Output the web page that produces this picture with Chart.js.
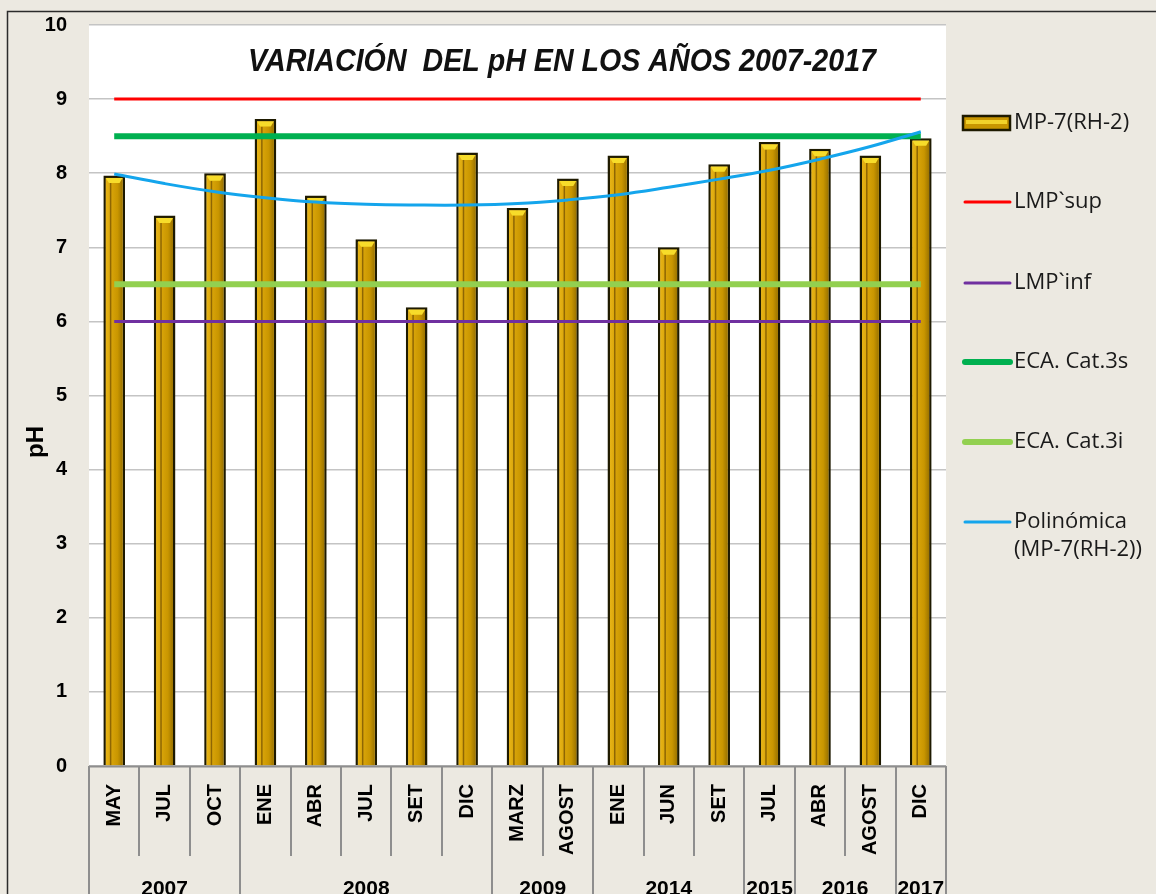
<!DOCTYPE html>
<html>
<head>
<meta charset="utf-8">
<script src="https://cdn.jsdelivr.net/npm/chart.js@4.4.1/dist/chart.umd.min.js"></script>
<style>
  html, body { margin: 0; padding: 0; background: #ECE9E1; }
  #wrap { width: 1156px; height: 894px; overflow: hidden; }
</style>
</head>
<body>
<div id="wrap"><canvas id="phChart" width="1156" height="894"></canvas></div>
<script>
// Categories (month / year groups)
const months = ['MAY', 'JUL', 'OCT', 'ENE', 'ABR', 'JUL', 'SET', 'DIC', 'MARZ', 'AGOST', 'ENE', 'JUN', 'SET', 'JUL', 'ABR', 'AGOST', 'DIC'];
const years = ['2007', '2008', '2009', '2014', '2015', '2016', '2017'];
const yearSpans = [3, 5, 2, 3, 1, 2, 1];

// Series values
const phValues = [7.97, 7.43, 8.00, 8.73, 7.70, 7.11, 6.19, 8.28, 7.53, 7.93, 8.24, 7.00, 8.12, 8.42, 8.33, 8.24, 8.47];
const lmpSup = [9, 9, 9, 9, 9, 9, 9, 9, 9, 9, 9, 9, 9, 9, 9, 9, 9];
const lmpInf = [6, 6, 6, 6, 6, 6, 6, 6, 6, 6, 6, 6, 6, 6, 6, 6, 6];
const ecaSup = [8.5, 8.5, 8.5, 8.5, 8.5, 8.5, 8.5, 8.5, 8.5, 8.5, 8.5, 8.5, 8.5, 8.5, 8.5, 8.5, 8.5];
const ecaInf = [6.5, 6.5, 6.5, 6.5, 6.5, 6.5, 6.5, 6.5, 6.5, 6.5, 6.5, 6.5, 6.5, 6.5, 6.5, 6.5, 6.5];
const trendValues = [7.99, 7.86, 7.75, 7.67, 7.61, 7.58, 7.57, 7.57, 7.59, 7.64, 7.71, 7.81, 7.92, 8.04, 8.19, 8.36, 8.56];

// Y axis ticks
const yMin = 0, yMax = 10, yStep = 1;

const chartTitle = 'VARIACIÓN  DEL pH EN LOS AÑOS 2007-2017';
const yTitle = 'pH';

const FONT = "'Liberation Sans', Arial, sans-serif";
const LEGEND_FONT = "'Open Sans', 'Liberation Sans', sans-serif";

// Frame, plot background, title, axis title
const framePlugin = {
    id: 'frame',
    beforeDraw(chart) {
        const { ctx, chartArea: a } = chart;
        ctx.save();
        ctx.fillStyle = '#ECE9E1';
        ctx.fillRect(0, 0, chart.width, chart.height);
        ctx.fillStyle = '#FFFFFF';
        ctx.fillRect(a.left, a.top, a.right - a.left, a.bottom - a.top);
        ctx.strokeStyle = '#2b2b2b';
        ctx.lineWidth = 1.5;
        ctx.beginPath();
        ctx.moveTo(7.5, chart.height + 2);
        ctx.lineTo(7.5, 11.5);
        ctx.lineTo(chart.width + 2, 11.5);
        ctx.stroke();
        ctx.restore();
    },
    afterDraw(chart) {
        const { ctx } = chart;
        ctx.save();
        // title inside plot
        ctx.fillStyle = '#111';
        ctx.font = 'italic bold 31px ' + FONT;
        ctx.textBaseline = 'middle';
        ctx.textAlign = 'center';
        const w = ctx.measureText(chartTitle).width;
        const sx = Math.min(1, 628 / w);
        ctx.translate(562, 62);
        ctx.scale(sx, 1);
        ctx.fillText(chartTitle, 0, 0);
        ctx.restore();

        // y axis title
        ctx.save();
        ctx.fillStyle = '#000';
        ctx.font = 'bold 24px ' + FONT;
        ctx.textAlign = 'center';
        ctx.textBaseline = 'middle';
        ctx.translate(36, 442);
        ctx.rotate(-Math.PI / 2);
        ctx.fillText(yTitle, 0, 0);
        ctx.restore();
    }
};

// Two level category axis: separators and year labels
const groupAxisPlugin = {
    id: 'groupAxis',
    afterDraw(chart) {
        const { ctx, chartArea: a, scales: { x } } = chart;
        const half = (x.getPixelForValue(1) - x.getPixelForValue(0)) / 2;
        ctx.save();
        ctx.strokeStyle = '#8E8E8E';
        ctx.lineWidth = 2;
        ctx.beginPath();
        ctx.moveTo(a.left, a.bottom + 0.5);
        ctx.lineTo(a.right, a.bottom + 0.5);
        ctx.stroke();

        const yearEdges = new Set([0]);
        let acc = 0;
        yearSpans.forEach(s => { acc += s; yearEdges.add(acc); });

        for (let i = 0; i <= months.length; i++) {
            const px = Math.round(x.getPixelForValue(i) - half);
            const full = yearEdges.has(i);
            ctx.beginPath();
            ctx.moveTo(px, a.bottom);
            ctx.lineTo(px, full ? chart.height : 856);
            ctx.stroke();
        }

        ctx.fillStyle = '#000';
        ctx.font = 'bold 21px ' + FONT;
        ctx.textAlign = 'center';
        ctx.textBaseline = 'alphabetic';
        let start = 0;
        years.forEach((yr, k) => {
            const end = start + yearSpans[k] - 1;
            const cx = (x.getPixelForValue(start) + x.getPixelForValue(end)) / 2;
            ctx.fillText(yr, cx, 895);
            start += yearSpans[k];
        });
        ctx.restore();
    }
};

// Bevel look on the bars
const bevelPlugin = {
    id: 'bevel',
    afterDatasetDraw(chart, args) {
        if (args.index !== 0) return;
        const { ctx } = chart;
        const bw = 2.5;
        ctx.save();
        args.meta.data.forEach(bar => {
            const l = bar.x - bar.width / 2 + bw;
            const r = bar.x + bar.width / 2 - bw;
            const t = bar.y + bw;
            const b = bar.base;
            const g = ctx.createLinearGradient(l, 0, r, 0);
            g.addColorStop(0, '#E7B416');
            g.addColorStop(0.3, '#D9A50A');
            g.addColorStop(0.7, '#C99600');
            g.addColorStop(1, '#9C7400');
            ctx.fillStyle = g;
            ctx.fillRect(l, t, r - l, b - t);
            // inner dark stripe
            ctx.fillStyle = 'rgba(110,75,0,0.7)';
            ctx.fillRect(l + 4, t + 5, 1.5, b - t - 5);
            // top cap
            ctx.fillStyle = '#F7DC2A';
            ctx.beginPath();
            ctx.moveTo(l, t);
            ctx.lineTo(r, t);
            ctx.lineTo(r - 3, t + 5);
            ctx.lineTo(l + 3, t + 5);
            ctx.closePath();
            ctx.fill();
        });
        ctx.restore();
    }
};

// Legend on the right
const legendPlugin = {
    id: 'sideLegend',
    afterDraw(chart) {
        const { ctx } = chart;
        const items = [
            { ds: 0, y: 123, type: 'bar' },
            { ds: 1, y: 202, type: 'line' },
            { ds: 2, y: 283, type: 'line' },
            { ds: 3, y: 362, type: 'line' },
            { ds: 4, y: 442, type: 'line' },
            { ds: 5, y: 522, type: 'line' }
        ];
        ctx.save();
        ctx.font = '22px ' + LEGEND_FONT;
        ctx.textBaseline = 'middle';
        ctx.textAlign = 'left';
        items.forEach(it => {
            const ds = chart.data.datasets[it.ds];
            if (it.type === 'bar') {
                ctx.fillStyle = '#C99600';
                ctx.fillRect(963, it.y - 7, 47, 14);
                ctx.fillStyle = '#F2D22A';
                ctx.fillRect(966, it.y - 3, 41, 4);
                ctx.strokeStyle = '#1E1A00';
                ctx.lineWidth = 2.5;
                ctx.strokeRect(963, it.y - 7, 47, 14);
            } else {
                ctx.strokeStyle = ds.borderColor;
                ctx.lineWidth = ds.borderWidth;
                ctx.lineCap = 'round';
                ctx.beginPath();
                ctx.moveTo(965, it.y);
                ctx.lineTo(1010, it.y);
                ctx.stroke();
            }
            ctx.fillStyle = '#1a1a1a';
            const lines = Array.isArray(ds.legendText) ? ds.legendText : [ds.label];
            lines.forEach((txt, j) => ctx.fillText(txt, 1014, it.y + j * 28));
        });
        ctx.restore();
    }
};

const ctx = document.getElementById('phChart').getContext('2d');
new Chart(ctx, {
    type: 'bar',
    data: {
        labels: months,
        datasets: [
            {
                type: 'bar',
                label: 'MP-7(RH-2)',
                data: phValues,
                backgroundColor: '#C99600',
                borderColor: '#1E1A00',
                borderWidth: 2.5,
                borderSkipped: 'bottom',
                barPercentage: 0.43,
                categoryPercentage: 1.0,
                order: 10
            },
            {
                type: 'line',
                label: 'LMP`sup',
                data: lmpSup,
                borderColor: '#FF0000',
                borderWidth: 3,
                pointRadius: 0,
                order: 1
            },
            {
                type: 'line',
                label: 'LMP`inf',
                data: lmpInf,
                borderColor: '#7030A0',
                borderWidth: 3,
                pointRadius: 0,
                order: 1
            },
            {
                type: 'line',
                label: 'ECA. Cat.3s',
                data: ecaSup,
                borderColor: '#00B050',
                borderWidth: 6,
                pointRadius: 0,
                order: 1
            },
            {
                type: 'line',
                label: 'ECA. Cat.3i',
                data: ecaInf,
                borderColor: '#92D050',
                borderWidth: 6,
                pointRadius: 0,
                order: 1
            },
            {
                type: 'line',
                label: 'Polinómica (MP-7(RH-2))',
                legendText: ['Polinómica', '(MP-7(RH-2))'],
                data: trendValues,
                borderColor: '#14A5EC',
                borderWidth: 3,
                pointRadius: 0,
                tension: 0.4,
                order: 0
            }
        ]
    },
    options: {
        responsive: false,
        animation: false,
        layout: { padding: { top: 25, right: 210, left: 0, bottom: 0 } },
        plugins: {
            legend: { display: false },
            title: { display: false },
            tooltip: { enabled: false }
        },
        scales: {
            x: {
                offset: true,
                grid: { display: false, drawTicks: false },
                border: { display: false },
                ticks: {
                    autoSkip: false,
                    maxRotation: 90,
                    minRotation: 90,
                    padding: 18,
                    color: '#000',
                    font: { family: FONT, size: 20, weight: 'bold' }
                },
                afterFit(axis) {
                    axis.height = 128;
                    axis.paddingLeft = 0;
                    axis.paddingRight = 0;
                }
            },
            y: {
                min: yMin,
                max: yMax,
                grid: { color: '#C4C4C4', lineWidth: 1.5, drawTicks: false },
                border: { display: false },
                ticks: {
                    stepSize: yStep,
                    padding: 22,
                    color: '#000',
                    font: { family: FONT, size: 20, weight: 'bold' }
                },
                afterFit(axis) {
                    axis.width = 89;
                    axis.paddingTop = 0;
                    axis.paddingBottom = 0;
                }
            }
        }
    },
    plugins: [framePlugin, groupAxisPlugin, bevelPlugin, legendPlugin]
});
</script>
</body>
</html>
